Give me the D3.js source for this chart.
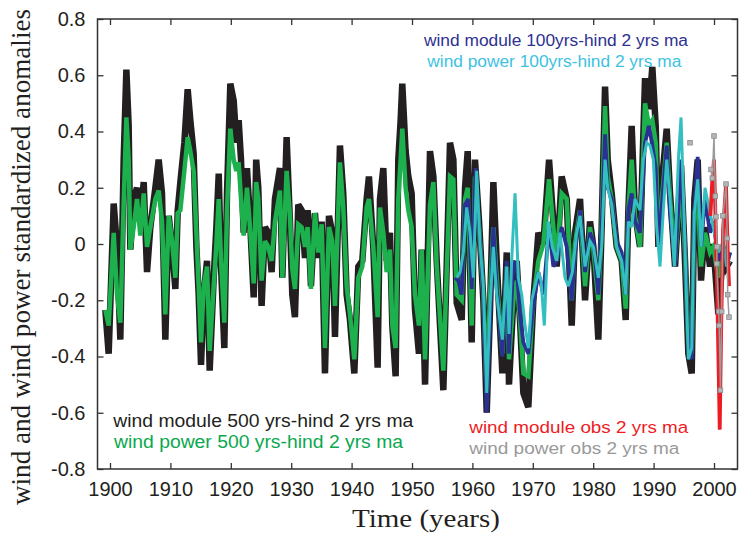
<!DOCTYPE html>
<html><head><meta charset="utf-8">
<script src="https://cdn.jsdelivr.net/npm/d3@7"></script>
<style>body{margin:0;background:#fff}svg{display:block}</style>
</head><body><svg id="c" width="742" height="538"></svg>
<script>
// ---------- DATA ----------
const xDomain = [1897.93, 2003.89];
const yDomain = [-0.8, 0.8];
const xTicks = [1900,1910,1920,1930,1940,1950,1960,1970,1980,1990,2000];
const yTicks = [-0.8,-0.6,-0.4,-0.2,0,0.2,0.4,0.6,0.8];
const yTickLabels = ["-0.8","-0.6","-0.4","-0.2","0","0.2","0.4","0.6","0.8"];

const years500 = [
 1899.23,1899.78,1900.61,1901.16,1901.71,1902.26,1902.71,1903.09,1903.37,1903.92,
 1904.47,1905.02,1905.58,1906.13,1906.68,1907.51,1908.06,1908.61,1909.16,1909.72,
 1910.27,1910.82,1911.21,1911.65,1912.31,1912.86,1913.30,1913.85,1914.30,1914.68,
 1915.07,1915.51,1916.06,1916.50,1917.17,1917.61,1918.00,1918.38,1918.93,1919.37,
 1919.92,1920.48,1920.92,1921.30,1921.69,1922.13,1922.68,1923.24,1923.79,
 1924.20,1924.55,1925.10,1925.66,1926.21,1926.76,1927.31,1928.14,1928.53,1929.24,
 1929.79,1930.18,1930.62,1931.17,1931.73,1932.28,1932.72,1933.27,1933.93,1934.49,
 1935.04,1935.59,1936.25,1936.80,1937.25,1938.07,1938.62,1939.18,1939.73,1940.45,
 1941.11,1941.77,1942.49,1942.87,1943.59,1944.31,1944.70,1945.25,1945.80,1946.35,
 1946.74,1947.29,1947.73,1948.12,1948.39,1948.94,1949.39,1949.94,1950.49,1951.15,
 1951.60,1952.16,1952.98,1953.54,1954.09,1955.19,1956.29,1956.85,1957.40,1958.23,
 1958.78,1959.22,1959.88,1960.43,1961.10,1961.81,1962.37,1962.92,1963.47,1964.02,
 1964.96,1965.68,1966.06,1966.78,1967.33,1967.88,1968.44,1969.26,1970.09,1970.92,
 1971.75,1972.69,1973.40,1973.95,1974.78,1975.61,1976.44,1976.99,1977.82,
 1978.65,1979.47,1980.03,1980.85,1981.40,1981.96,1982.40,1983.06,1983.89,1984.72,
 1985.38,1985.82,1986.37,1986.92,1987.75,1988.58,1989.24,1989.79,1990.35,1990.79,
 1991.45,1992.17,1992.72,1993.55,1994.54,1995.20,1995.75,1996.31,1996.75,1997.30,
 1997.85,1998.51,1999.34,1999.89,2000.72,2001.55,2002.10,2002.65
];
const windModule500 = [
 -0.235,-0.39,0.144,-0.01,-0.34,0.30,0.62,0.42,-0.02,0.16,
 0.20,0.08,0.22,-0.10,0.06,0.20,0.30,0.18,-0.34,0.10,
 -0.01,-0.16,0.12,0.22,0.36,0.55,0.44,0.32,-0.01,-0.18,
 -0.43,-0.18,-0.06,-0.45,-0.12,0.06,0.25,-0.08,-0.37,0.18,
 0.57,0.51,0.36,0.44,0.30,0.04,0.27,0.06,-0.19,
 0.30,0.20,-0.22,0.06,0.04,-0.10,0.16,0.27,-0.12,0.38,
 0.08,-0.18,-0.26,0.14,0.12,-0.05,0.12,-0.15,0.11,-0.05,
 0.08,-0.46,0.10,0.04,-0.33,0.35,0.18,-0.18,-0.27,-0.46,
 -0.08,-0.06,0.16,0.24,-0.01,-0.44,0.16,0.27,-0.06,0.04,
 -0.29,-0.47,0.30,0.44,0.57,0.33,0.24,0.18,-0.23,-0.39,
 -0.02,-0.50,0.33,0.24,-0.06,-0.52,0.36,0.30,-0.21,-0.27,
 0.20,0.33,-0.35,0.30,0.08,-0.20,-0.60,-0.23,0.22,-0.06,
 -0.46,-0.03,-0.50,-0.20,-0.06,-0.27,-0.53,-0.58,-0.20,0.04,
 0.0,0.30,0.08,-0.08,0.24,0.16,-0.29,0.04,0.16,
 -0.20,0.08,-0.01,-0.34,0.06,0.56,0.30,0.18,-0.01,-0.06,
 -0.27,0.12,0.42,0.11,-0.01,0.59,0.48,0.63,0.42,-0.01,
 0.24,0.41,0.18,-0.08,0.28,-0.06,-0.39,-0.46,0.16,0.30,
 -0.13,0.06,-0.08,0.0,-0.25,-0.01,-0.08,-0.06
];
const windPower500 = [
 -0.235,-0.29,0.04,-0.18,-0.28,0.14,0.45,0.30,-0.02,0.06,
 0.16,0.03,0.18,-0.01,0.06,0.16,0.19,0.08,-0.25,0.10,
 0.01,-0.12,0.11,0.12,0.26,0.38,0.33,0.26,0.04,-0.15,
 -0.35,-0.15,-0.08,-0.38,-0.15,0.0,0.16,-0.06,-0.28,0.12,
 0.41,0.30,0.26,0.29,0.16,0.03,0.20,0.04,-0.14,
 0.22,0.16,-0.13,0.01,-0.01,-0.06,0.08,0.19,-0.12,0.26,
 0.10,-0.09,-0.16,0.07,0.06,-0.01,0.06,-0.16,0.11,-0.03,
 0.07,-0.37,0.06,0.01,-0.22,0.29,0.13,-0.15,-0.25,-0.41,
 -0.12,-0.08,0.13,0.16,-0.01,-0.26,0.13,0.04,-0.10,-0.02,
 -0.29,-0.37,0.16,0.30,0.41,0.20,0.12,0.06,-0.18,-0.29,
 -0.02,-0.41,0.14,0.22,-0.08,-0.45,0.24,0.23,-0.18,-0.20,
 0.16,0.20,-0.29,0.24,0.06,-0.18,-0.53,-0.18,0.06,-0.12,
 -0.39,-0.08,-0.41,-0.20,-0.13,-0.27,-0.46,-0.47,-0.20,-0.06,
 0.0,0.23,0.06,-0.06,0.18,0.16,-0.20,0.0,0.12,
 -0.15,0.06,-0.02,-0.20,0.06,0.49,0.24,0.16,-0.01,-0.06,
 -0.23,0.12,0.30,0.10,-0.01,0.50,0.42,0.44,0.36,-0.01,
 0.18,0.36,0.16,-0.06,0.22,-0.03,-0.35,-0.39,0.11,0.18,
 -0.08,0.04,-0.03,-0.01,-0.12,-0.01,-0.06,-0.03
];

const yearsModule100 = [
 1957.12,1957.67,1958.23,1958.78,1959.33,1959.88,1960.54,1961.10,1961.81,1962.37,
 1962.92,1963.47,1964.02,1964.96,1965.68,1966.06,1966.78,1967.33,1967.88,1968.44,
 1969.26,1970.09,1970.92,1971.75,1972.69,1973.40,1973.95,1974.78,1975.61,1976.44,
 1976.99,1977.82,
 1978.65,1979.47,1980.03,1980.85,1981.40,1981.96,1982.40,1983.06,1983.89,1984.72,
 1985.38,1985.82,1986.37,1986.92,1987.75,1988.58,1989.24,1989.79,1990.35,1990.79,
 1991.45,1992.17,1992.72,1993.55,1994.54,1995.20,1995.75,1996.31,1996.75,1997.30,
 1997.85,1998.51,1999.34,1999.89,2000.72,2001.55,2002.10,2002.65
];
const windModule100 = [
 -0.12,-0.13,-0.18,0.14,0.16,-0.16,0.27,0.06,-0.18,-0.60,
 -0.27,0.06,-0.15,-0.40,-0.06,-0.39,-0.06,-0.08,-0.25,-0.35,
 -0.39,-0.22,-0.10,-0.18,0.06,-0.08,-0.06,0.06,-0.01,-0.20,
 -0.03,0.12,
 -0.10,0.04,0.01,-0.18,0.06,0.39,0.20,0.16,0.01,-0.03,
 -0.18,0.12,0.18,0.08,0.04,0.36,0.42,0.35,0.27,-0.01,
 0.16,0.35,0.12,-0.08,0.30,-0.01,-0.37,-0.41,0.12,0.31,
 -0.01,0.16,0.04,0.08,-0.06,-0.01,-0.08,-0.03
];
const yearsPower100 = [
 1957.40,1957.95,1958.50,1959.05,1959.61,1960.16,1960.71,1961.26,1961.81,1962.37,
 1962.92,1963.47,1964.02,1964.96,1965.68,1966.06,1966.50,1967.06,1967.61,1968.16,
 1968.71,1969.26,1969.82,1970.37,1970.92,1971.36,1971.91,1972.57,1973.24,1973.95,
 1974.51,1975.33,1975.89,1976.55,1977.27,1977.82,
 1978.65,1979.47,1980.03,1980.85,1981.40,1981.96,1982.40,1983.06,1983.89,1984.72,
 1985.38,1985.82,1986.37,1986.92,1987.75,1988.30,1988.86,1989.41,1989.96,1990.51,
 1991.06,1991.61,1992.17,1992.72,1993.44,1994.10,1994.54,1995.20,1995.75,1996.31,
 1996.75,1997.30,1997.85,1998.51,1999.34,1999.89,2000.72,2001.55,2002.10,2002.65
];
const windPower100 = [
 -0.12,-0.10,-0.03,0.13,0.04,-0.12,0.26,0.0,-0.15,-0.53,
 -0.22,-0.01,-0.18,-0.34,-0.08,-0.32,-0.06,0.18,-0.12,-0.18,
 -0.29,-0.37,-0.20,-0.15,-0.10,-0.13,-0.29,0.08,-0.01,-0.06,
 0.04,-0.12,-0.15,-0.10,0.04,0.10,
 -0.08,0.01,-0.01,-0.12,-0.01,0.30,0.20,0.14,-0.01,-0.06,
 -0.18,0.08,0.06,0.16,0.12,0.30,0.36,0.35,0.30,0.06,
 -0.08,0.12,0.30,0.16,-0.08,0.30,0.45,-0.01,-0.41,-0.37,
 0.11,0.23,-0.01,0.20,0.11,0.06,-0.03,0.01,-0.08,-0.06
];

const yearsModuleObs = [1999.40,1999.70,2000.00,2000.30,2000.60,2000.95,2001.20,2001.50,2001.99,2002.30,2002.50];
const windModuleObs  = [0.10,0.22,0.30,0.05,-0.25,-0.66,-0.28,0.05,0.21,-0.05,-0.15];

const yearsPowerObs = [1996.03,null,1999.50,1999.72,2000.00,2000.22,2000.33,2000.50,2000.45,2000.77,2000.85,2001.07,2001.27,2001.48,2001.99,2002.20,2002.27,2002.48];
const windPowerObs  = [0.36,null,0.265,0.234,0.384,0.17,0.097,-0.01,-0.07,-0.24,-0.29,-0.52,-0.24,0.10,0.213,0.02,-0.18,-0.26];

const legendLabels = [
 "wind module 500 yrs-hind 2 yrs ma","wind power 500 yrs-hind 2 yrs ma",
 "wind module 100yrs-hind 2 yrs ma","wind power 100yrs-hind 2 yrs ma",
 "wind module obs 2 yrs ma","wind power obs 2 yrs ma"
];

// ---------- CHART ----------
const svg = d3.select("#c");
const L = 97.5, R = 737.5, T = 19, B = 469;
const x = d3.scaleLinear().domain(xDomain).range([L, R]);
const y = d3.scaleLinear().domain(yDomain).range([B, T]);
const ink = "#231f20";

svg.append("defs").append("clipPath").attr("id","clip")
  .append("rect").attr("x",L).attr("y",T).attr("width",R-L).attr("height",B-T);

const zip = (xs, ys) => xs.map((d,i)=>({x:d, y:ys[i]}));
const line = d3.line().defined(d=>d.x!=null && d.y!=null).x(d=>x(d.x)).y(d=>y(d.y));

const series = [
 {data: zip(years500, windModule500), color: ink, w: 6.5},
 {data: zip(years500, windPower500), color: "#1cb14d", w: 4.5},
 {data: zip(yearsModule100, windModule100), color: "#2b3192", w: 3.8},
 {data: zip(yearsPower100, windPower100), color: "#33bfc0", w: 3},
 {data: zip(yearsModuleObs, windModuleObs), color: "#ed1c24", w: 3.8},
 {data: zip(yearsPowerObs, windPowerObs), color: "#9a9a9a", w: 1.5}
];
const plotG = svg.append("g").attr("clip-path","url(#clip)");
series.forEach(s=>{
  plotG.append("path").datum(s.data).attr("d",line)
   .attr("fill","none").attr("stroke",s.color).attr("stroke-width",s.w)
   .attr("stroke-linejoin","miter").attr("stroke-miterlimit",3);
});
plotG.selectAll("rect.m").data(series[5].data.filter(d=>d.x!=null)).enter().append("rect")
  .attr("class","m")
  .attr("x",d=>x(d.x)-2.3).attr("y",d=>y(d.y)-2.3).attr("width",4.6).attr("height",4.6)
  .attr("fill","#b5b5b5").attr("stroke","#8c8c8c").attr("stroke-width",0.8);

// axes
const axG = svg.append("g").attr("font-family","'Liberation Serif','Times New Roman',serif");
const axL = axG.append("g").attr("transform",`translate(${L},0)`)
  .call(d3.axisLeft(y).tickValues(yTicks).tickFormat((d,i)=>yTickLabels[i]).tickSize(-6).tickPadding(12));
const axR = axG.append("g").attr("transform",`translate(${R},0)`)
  .call(d3.axisRight(y).tickValues(yTicks).tickFormat("").tickSize(-6));
const axB = axG.append("g").attr("transform",`translate(0,${B})`)
  .call(d3.axisBottom(x).tickValues(xTicks).tickFormat(d3.format("d")).tickSize(-6).tickPadding(13));
const axT = axG.append("g").attr("transform",`translate(0,${T})`)
  .call(d3.axisTop(x).tickValues(xTicks).tickFormat("").tickSize(-6));
[axL,axR,axB,axT].forEach(a=>{
  a.select(".domain").remove();
  a.selectAll(".tick line").attr("stroke","#333").attr("stroke-width",1.3);
  a.selectAll(".tick text").attr("fill",ink).attr("font-size",20);
});
svg.append("rect").attr("x",L).attr("y",T).attr("width",R-L).attr("height",B-T)
  .attr("fill","none").attr("stroke","#333").attr("stroke-width",1.5);

// axis titles
svg.append("text").attr("transform","translate(30,257) rotate(-90)")
  .attr("text-anchor","middle").attr("font-family","'Liberation Serif','Times New Roman',serif")
  .attr("font-size",27).attr("fill",ink).attr("textLength",496).attr("lengthAdjust","spacingAndGlyphs")
  .text("wind and wind power standardized anomalies");
svg.append("text").attr("x",426).attr("y",527)
  .attr("text-anchor","middle").attr("font-family","'Liberation Serif','Times New Roman',serif")
  .attr("font-size",26).attr("fill",ink).attr("textLength",148).attr("lengthAdjust","spacingAndGlyphs")
  .text("Time (years)");

// legends
const legendStyle = [
 {x:113.3, y:426.7, c:ink, fs:17.5, len:300},
 {x:114, y:447.7, c:"#0aa84f", fs:17.5, len:289},
 {x:424, y:45.7, c:"#2e3192", fs:15.8, len:264},
 {x:427.3, y:66.7, c:"#3ec2e2", fs:15.8, len:254},
 {x:469.3, y:433, c:"#ed1c24", fs:16.8, len:219},
 {x:469.3, y:454, c:"#999999", fs:16.8, len:210}
];
svg.append("g").attr("font-family","'Liberation Sans',Arial,sans-serif")
 .selectAll("text").data(legendLabels).enter().append("text")
 .attr("x",(d,i)=>legendStyle[i].x).attr("y",(d,i)=>legendStyle[i].y)
 .attr("fill",(d,i)=>legendStyle[i].c).attr("font-size",(d,i)=>legendStyle[i].fs)
 .attr("textLength",(d,i)=>legendStyle[i].len).attr("lengthAdjust","spacingAndGlyphs")
 .text(d=>d);
</script></body></html>
